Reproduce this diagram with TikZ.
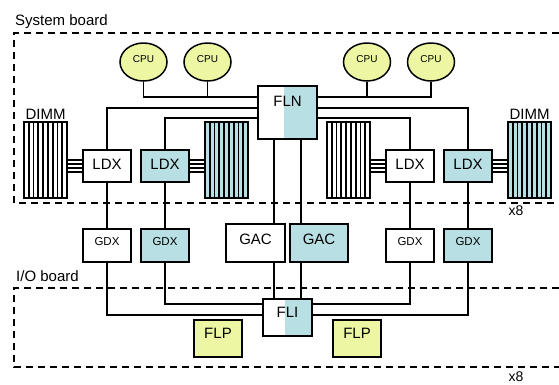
\documentclass[tikz,border=0pt]{standalone}
\usepackage{fontspec}
\setmainfont{Liberation Sans}
\usetikzlibrary{shapes.geometric,calc}
\definecolor{chipblue}{RGB}{184,223,227}
\definecolor{cpuyel}{RGB}{236,246,163}
\begin{document}
\begin{tikzpicture}[x=1pt,y=-1pt,
  conn/.style={line width=1.3pt},
  board/.style={line width=1.3pt, dash pattern=on 7pt off 5pt},
  chip/.style={draw, line width=1.5pt, rectangle, inner sep=0pt, minimum width=48pt, minimum height=32pt, font=\fontsize{15}{15}\selectfont, text height=10.7pt},
  smallchip/.style={chip, minimum height=33pt, font=\fontsize{11.5}{11.5}\selectfont, text height=8.2pt, text depth=9pt},
  cpu/.style={draw, ellipse, line width=1.5pt, fill=cpuyel, inner sep=0pt, minimum width=47pt, minimum height=38pt, font=\fontsize{10}{10}\selectfont, text height=7.2pt, text depth=6pt},
  splitfill/.style={path picture={\fill[chipblue] ($(path picture bounding box.south west)!0.44!(path picture bounding box.south east)$) rectangle (path picture bounding box.north east);}},
  dimm/.style={draw, line width=1.5pt, inner sep=0pt, minimum width=43pt, minimum height=76pt,
    path picture={\foreach \i in {1,...,8} \draw[line width=1.8pt] ($(path picture bounding box.south west)!{\i/9}!(path picture bounding box.south east)$) -- ($(path picture bounding box.north west)!{\i/9}!(path picture bounding box.north east)$);}},
  lbl/.style={font=\fontsize{15}{15}\selectfont, inner sep=0pt}
]
\useasboundingbox (0,0) rectangle (559,384);

% boards
\draw[board] (559,33) -- (14,33) -- (14,203) -- (559,203);
\draw[board] (559,288) -- (14,288) -- (14,367) -- (559,367);
\node[lbl, anchor=base west] (sysl) at (15,25.5) {System board};
\node[lbl, anchor=base west] (iol) at (16,281.5) {I/O board};
\node[lbl, anchor=base, font=\fontsize{14}{14}\selectfont] (x8a) at (516,215) {x8};
\node[lbl, anchor=base, font=\fontsize{14}{14}\selectfont] (x8b) at (516,381.5) {x8};

% CPUs
\node[cpu] (cpu1) at (143.5,62) {CPU};
\node[cpu] (cpu2) at (207.5,62) {CPU};
\node[cpu] (cpu3) at (367,62) {CPU};
\node[cpu] (cpu4) at (431,62) {CPU};

% FLN
\node[chip, splitfill, minimum width=59pt, minimum height=53pt, text depth=23pt] (fln) at (287.5,112.5) {FLN};

% LDX
\node[chip, text depth=3pt] (ldx1) at (107,166) {LDX};
\node[chip, fill=chipblue, text depth=3pt] (ldx2) at (165,166) {LDX};
\node[chip, text depth=3pt] (ldx3) at (410,166) {LDX};
\node[chip, fill=chipblue, text depth=3pt] (ldx4) at (468,166) {LDX};

% DIMMs
\node[dimm] (dimm1) at (45.5,160) {};
\node[dimm, fill=chipblue] (dimm2) at (226.5,160) {};
\node[dimm] (dimm3) at (348.5,160) {};
\node[dimm, fill=chipblue] (dimm4) at (529.5,160) {};
\node[lbl, anchor=base] (dl1) at ([yshift=2pt]dimm1.north) {DIMM};
\node[lbl, anchor=base] (dl4) at ([yshift=2pt]dimm4.north) {DIMM};

% GDX
\node[smallchip] (gdx1) at (107,245.5) {GDX};
\node[smallchip, fill=chipblue] (gdx2) at (165,245.5) {GDX};
\node[smallchip] (gdx3) at (410,245.5) {GDX};
\node[smallchip, fill=chipblue] (gdx4) at (468,245.5) {GDX};

% GAC
\node[chip, minimum width=59pt, minimum height=38pt, text depth=8pt] (gacw) at (255.5,243) {GAC};
\node[chip, fill=chipblue, minimum width=58pt, minimum height=38pt, text depth=8pt] (gacb) at (319,243) {GAC};

% FLI
\node[chip, splitfill, minimum width=49pt, minimum height=37pt, text depth=10pt] (fli) at (287.5,317.5) {FLI};

% FLP
\node[chip, fill=cpuyel, minimum height=37pt, text depth=10pt] (flp1) at (218,338.5) {FLP};
\node[chip, fill=cpuyel, minimum height=37pt, text depth=10pt] (flp2) at (357,338.5) {FLP};

% row coordinates
\coordinate (r1) at (0,97);
\coordinate (r2) at (0,108);
\coordinate (r3) at (0,118);
\coordinate (r4) at (0,304);
\coordinate (r5) at (0,315);
\coordinate (fa) at (274,0);
\coordinate (fb) at (301,0);

% CPU buses
\draw[conn] (cpu1.south) |- (r1 -| fln.west);
\draw[conn] (cpu2.south) -- (cpu2.south |- r1);
\draw[conn] (cpu4.south) |- (r1 -| fln.east);
\draw[conn] (cpu3.south) -- (cpu3.south |- r1);

% FLN to LDX
\draw[conn] (ldx1.north) |- (r2 -| fln.west);
\draw[conn] (ldx2.north) |- (r3 -| fln.west);
\draw[conn] (ldx4.north) |- (r2 -| fln.east);
\draw[conn] (ldx3.north) |- (r3 -| fln.east);

% LDX to DIMM buses
\foreach \d [count=\k] in {6,2,-2,-6}{
  \path ([yshift=\d pt]ldx1.west) coordinate (ta\k);
  \path ([yshift=\d pt]ldx2.east) coordinate (tb\k);
  \path ([yshift=\d pt]ldx3.west) coordinate (tc\k);
  \path ([yshift=\d pt]ldx4.east) coordinate (td\k);
  \draw[conn, line width=1.1pt] (ta\k) -- (ta\k -| dimm1.east);
  \draw[conn, line width=1.1pt] (tb\k) -- (tb\k -| dimm2.west);
  \draw[conn, line width=1.1pt] (tc\k) -- (tc\k -| dimm3.east);
  \draw[conn, line width=1.1pt] (td\k) -- (td\k -| dimm4.west);
}

% LDX to GDX
\draw[conn] (ldx1.south) -- (gdx1.north);
\draw[conn] (ldx2.south) -- (gdx2.north);
\draw[conn] (ldx3.south) -- (gdx3.north);
\draw[conn] (ldx4.south) -- (gdx4.north);

% GDX to FLI
\draw[conn] (gdx1.south) |- (r5 -| fli.west);
\draw[conn] (gdx2.south) |- (r4 -| fli.west);
\draw[conn] (gdx3.south) |- (r4 -| fli.east);
\draw[conn] (gdx4.south) |- (r5 -| fli.east);

% FLN - GAC - FLI
\draw[conn] (fa |- fln.south) -- (fa |- gacw.north);
\draw[conn] (fa |- gacw.south) -- (fa |- fli.north);
\draw[conn] (fb |- fln.south) -- (fb |- gacb.north);
\draw[conn] (fb |- gacb.south) -- (fb |- fli.north);
\end{tikzpicture}
\end{document}
